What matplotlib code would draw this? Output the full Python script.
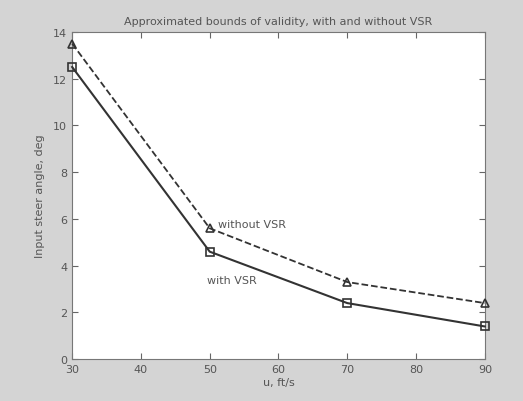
import matplotlib
matplotlib.use("Agg")
import matplotlib.pyplot as plt

# speeds, ft/s
u = [30, 50, 70, 90]
# input steer angle bounds, deg
with_vsr = [12.5, 4.6, 2.4, 1.4]
without_vsr = [13.5, 5.6, 3.3, 2.4]

TXT = "#555555"

fig = plt.figure(figsize=(5.23, 4.02), dpi=100, facecolor="#d4d4d4")
ax = fig.add_axes([0.138, 0.104, 0.789, 0.814])
ax.set_facecolor("white")

ax.plot(u, without_vsr, "--^", color="#333333", lw=1.3, ms=6, mfc="none",
        mew=1.2, clip_on=False, zorder=3)
ax.plot(u, with_vsr, "-s", color="#333333", lw=1.5, ms=6, mfc="none",
        mew=1.2, clip_on=False, zorder=3)

ax.text(51.2, 5.8, "without VSR", fontsize=8, color=TXT, va="center")
ax.text(49.6, 3.4, "with VSR", fontsize=8, color=TXT, va="center")

ax.set_xlim(30, 90)
ax.set_ylim(0, 14)
ax.set_xticks(range(30, 91, 10))
ax.set_yticks(range(0, 15, 2))
ax.tick_params(direction="in", top=True, right=True, labelsize=8,
               labelcolor=TXT, color="#666666", length=4)
for s in ax.spines.values():
    s.set_color("#777777")

ax.set_xlabel("u, ft/s", fontsize=8, color=TXT, labelpad=2)
ax.set_ylabel("Input steer angle, deg", fontsize=8, color=TXT, labelpad=6)
ax.set_title("Approximated bounds of validity, with and without VSR",
             fontsize=8, color=TXT, pad=6)

fig.savefig("out.png", dpi=100, facecolor=fig.get_facecolor())
